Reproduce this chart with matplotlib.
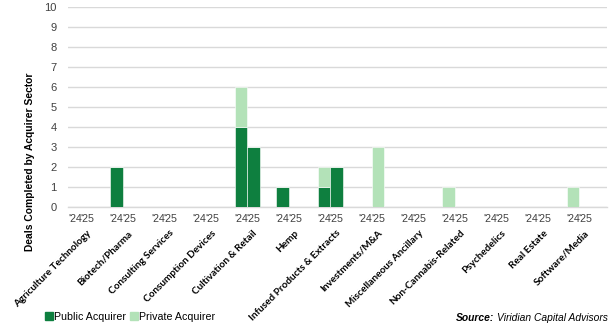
import matplotlib
matplotlib.use('Agg')
import matplotlib.pyplot as plt
import numpy as np
from matplotlib.patches import Patch
from matplotlib.transforms import blended_transform_factory

plt.rcParams['font.family'] = ['Liberation Sans', 'DejaVu Sans']

sectors = ['Agriculture Technology', 'Biotech/Pharma', 'Consulting Services',
           'Consumption Devices', 'Cultivation & Retail', 'Hemp',
           'Infused Products & Extracts', 'Investments/M&A',
           'Miscellaneous Ancillary', 'Non-Cannabis-Related', 'Psychedelics',
           'Real Estate', 'Software/Media']
years = ["'24", "'25"]

public_24 = [0, 2, 0, 0, 4, 1, 1, 0, 0, 0, 0, 0, 0]
private_24 = [0, 0, 0, 0, 2, 0, 1, 0, 0, 1, 0, 0, 1]
public_25 = [0, 0, 0, 0, 3, 0, 2, 0, 0, 0, 0, 0, 0]
private_25 = [0, 0, 0, 0, 0, 0, 0, 3, 0, 0, 0, 0, 0]

dark = '#0E7F3F'
light = '#B3E2B8'

fig = plt.figure(figsize=(6.16, 3.30), dpi=100)
ax = fig.add_axes([0.110, 0.373, 0.875, 0.606])

x = np.arange(len(sectors))
off = 0.155
w = 0.30

for pos, pub, priv in [(x - off, public_24, private_24), (x + off, public_25, private_25)]:
    ax.bar(pos, pub, w, color=dark, edgecolor='white', linewidth=0.4, zorder=3)
    ax.bar(pos, priv, w, bottom=pub, color=light, edgecolor='white', linewidth=0.4, zorder=3)

ax.set_xlim(-0.325, 12.663)
ax.set_ylim(0, 10)
ax.set_yticks(range(0, 11))
ax.tick_params(axis='y', length=0, labelsize=8, labelcolor='#404040', pad=8)
ax.grid(axis='y', color='#D9D9D9', linewidth=1, zorder=0)
for s in ['top', 'right', 'left']:
    ax.spines[s].set_visible(False)
ax.spines['bottom'].set_color('#D9D9D9')
ax.spines['bottom'].set_linewidth(1)

ticks = np.concatenate([x - off, x + off])
labels = [years[0]] * len(sectors) + [years[1]] * len(sectors)
ax.set_xticks(ticks)
ax.set_xticklabels(labels, fontsize=7.7, color='#404040')
ax.tick_params(axis='x', length=0, pad=5)

trans = blended_transform_factory(ax.transData, ax.transAxes)
for i, name in enumerate(sectors):
    ax.text(i + 0.13, -0.108, name, transform=trans, rotation=45,
            rotation_mode='anchor', ha='right', va='top',
            fontsize=7.2, fontweight='bold', family=['Lato', 'DejaVu Sans'])

fig.text(0.048, 0.51, 'Deals Completed by Acquirer Sector', rotation=90,
         ha='center', va='center', fontsize=7.4, fontweight='bold')

handles = [Patch(color=dark), Patch(color=light)]
fig.legend(handles, ['Public Acquirer', 'Private Acquirer'], loc='center left',
           bbox_to_anchor=(0.065, 0.04), ncol=2, frameon=False, fontsize=7.7,
           handlelength=0.7, handleheight=0.7, handletextpad=0.1,
           columnspacing=0.4, borderpad=0)

fig.text(0.802, 0.035, 'Source:', ha='right', va='center', fontsize=7.4,
         fontweight='bold', style='italic')
fig.text(0.807, 0.035, 'Viridian Capital Advisors', ha='left', va='center',
         fontsize=7.4, style='italic')

fig.savefig('out.png', dpi=100)
